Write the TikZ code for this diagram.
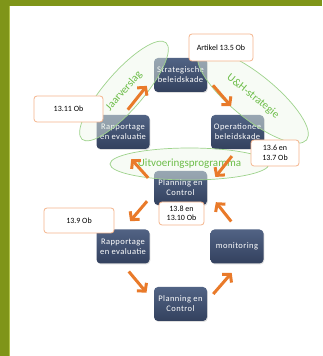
\documentclass[tikz,border=0pt]{standalone}
\usepackage{fontspec}
\setmainfont{Carlito}
\usetikzlibrary{shapes.geometric,arrows.meta,calc,shadows}
\definecolor{olivebar}{HTML}{7F9519}
\definecolor{olivelight}{HTML}{B2C44A}
\definecolor{boxtop}{HTML}{516384}
\definecolor{boxbot}{HTML}{33415E}
\definecolor{lblorange}{HTML}{F4B48C}
\definecolor{ovalgreen}{HTML}{9ED38C}
\definecolor{ovalfill}{HTML}{EEF8EA}
\definecolor{gtext}{HTML}{6CBD48}
\definecolor{arrorange}{HTML}{E97A2A}
\begin{document}
\begin{tikzpicture}[x=1pt,y=1pt,
  box/.style={rounded corners=4pt, minimum width=53pt, minimum height=34pt,
    top color=boxtop, bottom color=boxbot, text=white,
    font=\fontsize{8.5}{10}\selectfont\addfontfeatures{LetterSpace=5}, align=center, inner sep=1pt,
    drop shadow={opacity=0.25, shadow xshift=0.8pt, shadow yshift=-1pt}},
  lbl/.style={rounded corners=3pt, draw=lblorange, line width=0.8pt, fill=white,
    font=\fontsize{8}{9.5}\selectfont, align=center, inner sep=1pt},
  oval/.style={ellipse, draw=ovalgreen, line width=0.7pt, fill=ovalfill,
    fill opacity=0.45, text opacity=1, text=gtext,
    font=\fontsize{11}{12}\selectfont, inner sep=0pt},
  arr/.style={draw=arrorange, line width=3pt,
    -{Straight Barb[length=5.5pt,width=12.5pt]}}
]
\useasboundingbox (0,0) rectangle (322,356);
% frame
\fill[white] (0,0) rectangle (322,356);
\fill[olivebar] (0,0) rectangle (9,356);
\fill[olivebar] (0,350) rectangle (322,356);
\fill[olivelight] (9,0) rectangle (10,350);

% dark boxes
\node[box] (strat) at (180.5,281) {Strategische\\beleidskade};
\node[box] (oper)  at (237.5,224) {Operationee\\beleidskade};
\node[box] (rap1)  at (123,224) {Rapportage\\en evaluatie};
\node[box] (plan1) at (180.5,168) {Planning en\\Control};
\node[box] (rap2)  at (123,109.5) {Rapportage\\en evaluatie};
\node[box] (mon)   at (237,109.5) {monitoring};
\node[box] (plan2) at (180.5,52) {Planning en\\Control};

% ovals
\node[oval, minimum width=128pt, minimum height=38pt, rotate=49] (ejaar) at (124,265) {\raisebox{-2pt}{Jaarverslag}};
\node[oval, minimum width=138pt, minimum height=44pt, rotate=-39] (euh) at (253,259.5) {U\&H-strategie};
\node[oval, minimum width=159pt, minimum height=32pt] (euit) at (189.5,192) {Uitvoeringsprogramma};

% label boxes
\node[lbl, minimum width=64pt, minimum height=27pt] (art) at (221,308.5) {Artikel 13.5 Ob};
\node[lbl, minimum width=69pt, minimum height=26pt] (l1311) at (68.5,247) {13.11 Ob};
\node[lbl, minimum width=48pt, minimum height=26pt] (l136) at (275,203) {13.6 en\\13.7 Ob};
\node[lbl, minimum width=70pt, minimum height=25pt] (l139) at (79,135.5) {13.9 Ob};
\node[lbl, minimum width=45pt, minimum height=23pt] (l138) at (181.5,142.5) {13.8 en\\13.10 Ob};

% cycle centres
\coordinate (c1) at ($(rap1)!0.5!(oper)$);
\coordinate (c2) at ($(rap2)!0.5!(mon)$);

% arrows upper cycle
\draw[arr] ($(c1)+(157:57)$) -- ($(c1)+(126:57)$);
\draw[arr] ($(c1)+(55:57)$) -- ($(c1)+(27:57)$);
\draw[arr] ($(c1)+(-25:57)$) -- ($(c1)+(-52:57)$);
\draw[arr] ($(c1)+(235:56)$) -- ($(c1)+(209:56)$);
% arrows lower cycle
\draw[arr] ($(c2)+(126:56)$) -- ($(c2)+(153:56)$);
\draw[arr] ($(c2)+(206:57)$) -- ($(c2)+(234:57)$);
\draw[arr] ($(c2)+(-55:58)$) -- ($(c2)+(-27:58)$);
\draw[arr] ($(c2)+(26:57)$) -- ($(c2)+(51:57)$);
\end{tikzpicture}
\end{document}
